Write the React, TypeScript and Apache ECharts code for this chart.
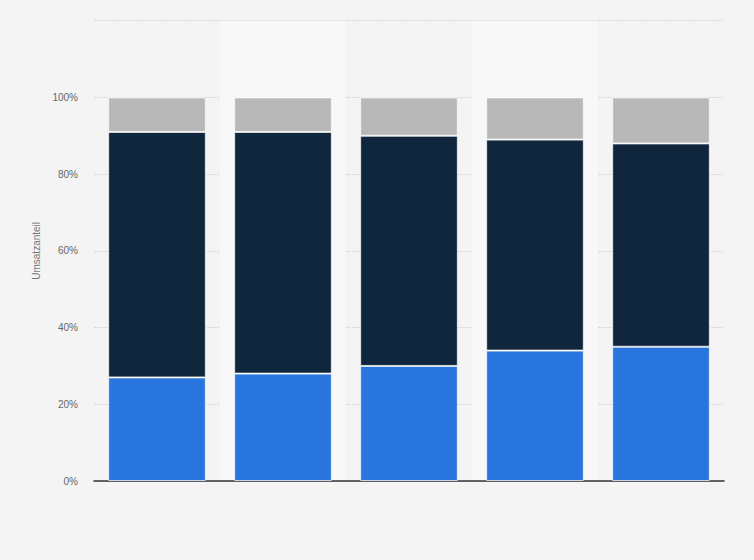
import { useEffect, useRef } from "react";
import * as echarts from "echarts";

const kategorien = ["1", "2", "3", "4", "5"];
const anteilBlau = [27, 28, 30, 34, 35];
const anteilDunkel = [64, 63, 60, 55, 53];
const anteilGrau = [9, 9, 10, 11, 12];
const yTicks = [0, 20, 40, 60, 80, 100, 120];

export default function App(): JSX.Element {
  const chartRef = useRef<HTMLDivElement>(null);
  useEffect(() => {
    const myChart = echarts.init(chartRef.current, undefined, { renderer: "svg" });
    const border = { borderColor: "rgba(255,255,255,0.7)", borderWidth: 1 };
    const option = {
      animation: false,
      backgroundColor: "#f4f4f4",
      grid: { left: 94, right: 30, top: 20.7, bottom: 79 },
      xAxis: {
        type: "category",
        data: kategorien,
        axisLabel: { show: false },
        axisTick: { show: false },
        axisLine: { lineStyle: { color: "#333", width: 1.5 } },
        splitLine: { show: false },
        splitArea: { show: true, areaStyle: { color: ["rgba(0,0,0,0)", "#f8f8f8"] } },
      },
      yAxis: {
        type: "value",
        min: yTicks[0],
        max: yTicks[yTicks.length - 1],
        interval: 20,
        name: "Umsatzanteil",
        nameLocation: "middle",
        nameGap: 52,
        nameTextStyle: { color: "#777", fontSize: 10, fontFamily: "Liberation Sans" },
        axisLine: { show: false },
        axisTick: { show: false },
        axisLabel: {
          color: "#666",
          fontSize: 10,
          fontFamily: "Liberation Sans",
          margin: 16,
          formatter: (v: number) => (v === 120 ? "" : v + "%"),
        },
        splitLine: { lineStyle: { color: "#d8d8d8", type: [2, 1] } },
      },
      series: [
        { name: "Blau", type: "bar", stack: "a", data: anteilBlau, barWidth: "77.5%", itemStyle: { color: "#2876dd", ...border } },
        { name: "Dunkel", type: "bar", stack: "a", data: anteilDunkel, itemStyle: { color: "#0f263d", ...border } },
        { name: "Grau", type: "bar", stack: "a", data: anteilGrau, itemStyle: { color: "#b8b8b8", ...border } },
      ],
    };
    myChart.setOption(option);
    return () => {
      myChart.dispose();
    };
  }, []);

  return <div ref={chartRef} style={{ position: "fixed", left: 0, top: 0, width: 754, height: 560 }}></div>;
}
